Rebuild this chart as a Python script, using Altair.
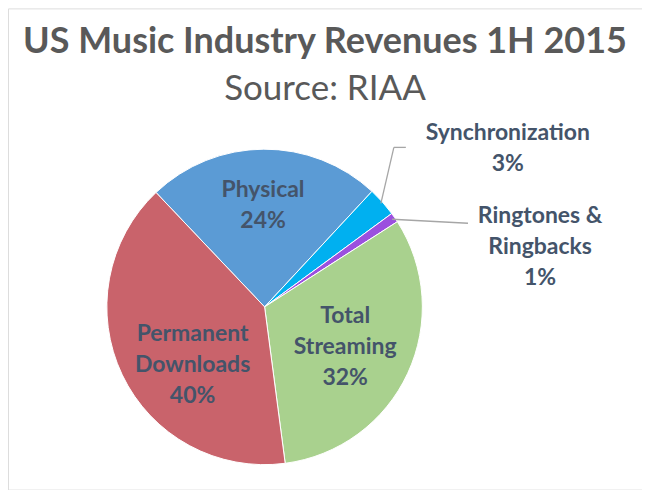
import math
import altair as alt
import pandas as pd

# ---- data ----
categories = ["Physical", "Synchronization", "Ringtones & Ringbacks",
              "Total Streaming", "Permanent Downloads"]
shares = [24, 3, 1, 32, 40]
labels = ["Physical", "Synchronization", "Ringtones &\nRingbacks",
          "Total\nStreaming", "Permanent\nDownloads"]
colors = ["#5B9BD5", "#00B0F0", "#9B4FDF", "#A9D18E", "#C9636B"]

TITLE = "US Music Industry Revenues 1H 2015"
SUBTITLE = "Source: RIAA"

# ---- layout ----
W, H = 635, 482
CX, CY, R = 257, 299, 158
START = math.radians(316.5)
TOTAL = sum(shares)
FONT = "Lato"
TXT = "#44546A"
LEAD = "#A6A6A6"

df = pd.DataFrame({"category": categories, "share": shares,
                   "label": labels, "order": list(range(len(categories)))})

theta_scale = alt.Scale(domain=[0, TOTAL], range=[START, START + 2 * math.pi])

base = alt.Chart(df).transform_window(
    cum="sum(share)", sort=[alt.SortField("order")], frame=[None, 0]
).transform_calculate(
    mid="datum.cum - datum.share / 2",
    ang=f"{START} + 2 * PI * (datum.cum - datum.share / 2) / {TOTAL}",
    text="datum.label + '\\n' + datum.share + '%'",
)

arcs = base.mark_arc(radius=R, stroke="white", strokeWidth=1).encode(
    theta=alt.Theta("share:Q", stack=True, scale=theta_scale),
    order=alt.Order("order:Q"),
    color=alt.Color("category:N",
                    scale=alt.Scale(domain=categories, range=colors),
                    legend=None),
    x=alt.value(CX), y=alt.value(CY),
)


def label_layer(cat, radius, dx=0, dy=0):
    return base.transform_filter(alt.datum.category == cat).mark_text(
        radius=radius, dx=dx, dy=dy, lineBreak="\n", font=FONT,
        fontSize=23, fontWeight="bold", color=TXT, align="center",
        baseline="middle", lineHeight=31,
    ).encode(
        theta=alt.Theta("mid:Q", stack=False, scale=theta_scale),
        text="text:N",
        x=alt.value(CX), y=alt.value(CY),
    )


def leader(cat, r0, a, b):
    return base.transform_filter(alt.datum.category == cat).transform_calculate(
        px=f"{CX} + {r0} * sin(datum.ang)",
        py=f"{CY} - {r0} * cos(datum.ang)",
    ).transform_calculate(
        lx1=f"datum.px + {a[0]}", ly1=f"datum.py + {a[1]}",
        lx2=f"datum.px + {b[0]}", ly2=f"datum.py + {b[1]}",
    ).mark_rule(color=LEAD, strokeWidth=1.3).encode(
        x=alt.X("lx1:Q", scale=None, axis=None),
        y=alt.Y("ly1:Q", scale=None, axis=None),
        x2="lx2:Q", y2="ly2:Q",
    )


layers = [
    arcs,
    leader("Synchronization", 156, (0, 0), (13, -56)),
    leader("Synchronization", 156, (13, -56), (25, -56)),
    leader("Ringtones & Ringbacks", 155, (0, 0), (76, 4)),
    label_layer("Physical", 102, -1, -15),
    label_layer("Total Streaming", 89, 0, -28),
    label_layer("Permanent Downloads", 91, 10, -12),
    label_layer("Synchronization", 290, 27, 19),
    label_layer("Ringtones & Ringbacks", 279, 46, 67),
]

chart = alt.layer(*layers).properties(
    width=W, height=H, padding=0,
    autosize=alt.AutoSizeParams(type="none"),
    title=alt.Title(
        TITLE, subtitle=SUBTITLE, anchor="middle", offset=-100,
        font=FONT, fontSize=36, fontWeight="bold", color="#595959",
        subtitleFont=FONT, subtitleFontSize=35, subtitleColor="#595959",
        subtitleFontWeight="normal", subtitlePadding=11,
    ),
).configure_view(
    stroke="#C8C8C8", strokeWidth=1.5, cornerRadius=4
).configure(background="white")

chart.save("out.html", embed_options={"renderer": "svg", "actions": False})
